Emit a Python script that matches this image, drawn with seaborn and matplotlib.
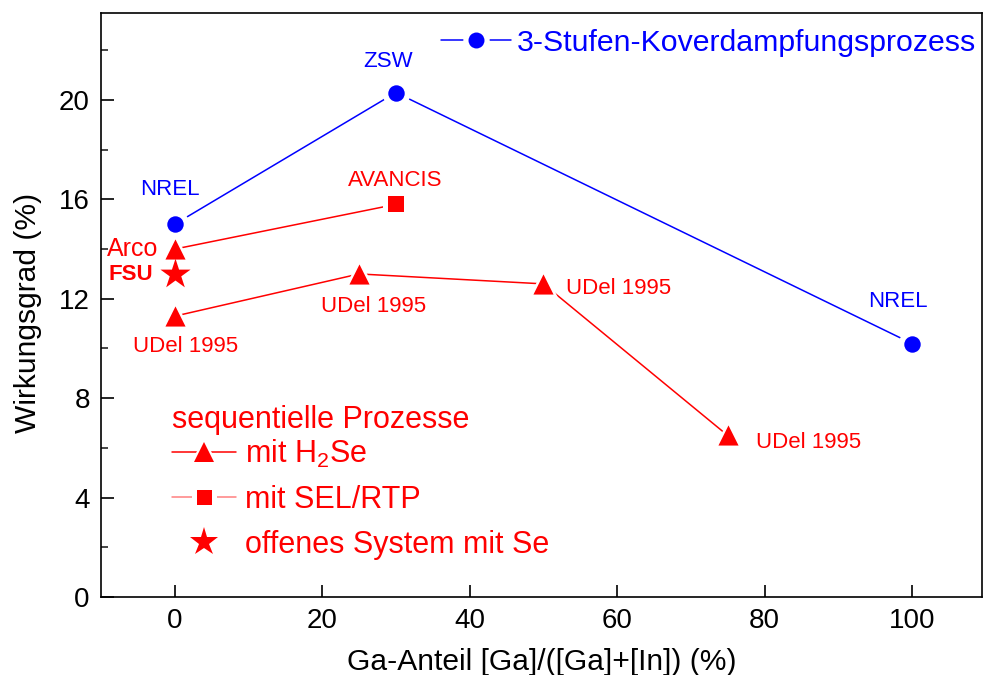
import matplotlib
matplotlib.use("Agg")
import matplotlib.pyplot as plt
from matplotlib.lines import Line2D
from matplotlib.ticker import MultipleLocator
import seaborn as sns
import pandas as pd

# --- data -------------------------------------------------------------
# 3-stage co-evaporation
ga_koverd = [0, 30, 100]
eta_koverd = [15.0, 20.3, 10.2]
lab_koverd = ["NREL", "ZSW", "NREL"]

# sequential process with H2Se (UDel 1995)
ga_h2se = [0, 25, 50, 75]
eta_h2se = [11.3, 13.0, 12.6, 6.5]
lab_h2se = ["UDel 1995", "UDel 1995", "UDel 1995", "UDel 1995"]

# Arco (H2Se) connected to AVANCIS (SEL/RTP)
ga_arco = [0]
eta_arco = [14.0]
ga_sel = [30]
eta_sel = [15.8]

# open system with Se (FSU)
ga_fsu = [0]
eta_fsu = [13.0]

BLUE = "#0000ff"
RED = "#ff0000"
PINK = "#ff8080"

sns.set_style("ticks")
plt.rcParams["font.family"] = ["Liberation Sans", "DejaVu Sans"]
plt.rcParams["text.color"] = "black"
plt.rcParams["axes.labelcolor"] = "black"
plt.rcParams["mathtext.fontset"] = "custom"
plt.rcParams["mathtext.rm"] = "Liberation Sans"

fig = plt.figure(figsize=(9.84, 6.75), dpi=100)
ax = fig.add_axes([0.1026, 0.1156, 0.8954, 0.8651])

df_k = pd.DataFrame({"ga": ga_koverd, "eta": eta_koverd})
df_h = pd.DataFrame({"ga": ga_h2se, "eta": eta_h2se})
df_s = pd.DataFrame({"ga": ga_arco + ga_sel, "eta": eta_arco + eta_sel})

# connecting lines
sns.lineplot(data=df_k, x="ga", y="eta", sort=False, color=BLUE, lw=1.1, ax=ax, zorder=2)
sns.lineplot(data=df_h, x="ga", y="eta", sort=False, color=RED, lw=1.1, ax=ax, zorder=2)
sns.lineplot(data=df_s, x="ga", y="eta", sort=False, color=RED, lw=1.1, ax=ax, zorder=2)

# white halos so lines stop short of the symbols
halo = dict(color="white", linewidth=0, zorder=3, legend=False)
sns.scatterplot(x=ga_koverd, y=eta_koverd, marker="o", s=400, ax=ax, **halo)
sns.scatterplot(x=ga_h2se + ga_arco, y=eta_h2se + eta_arco, marker="^", s=520, ax=ax, **halo)
sns.scatterplot(x=ga_sel, y=eta_sel, marker="s", s=360, ax=ax, **halo)

# symbols
sym = dict(linewidth=0, zorder=4, legend=False)
sns.scatterplot(x=ga_koverd, y=eta_koverd, marker="o", s=140, color=BLUE, ax=ax, **sym)
sns.scatterplot(x=ga_h2se + ga_arco, y=eta_h2se + eta_arco, marker="^", s=210, color=RED, ax=ax, **sym)
sns.scatterplot(x=ga_sel, y=eta_sel, marker="s", s=118, color=RED, ax=ax, **sym)
sns.scatterplot(x=ga_fsu, y=eta_fsu, marker="*", s=520, color=RED, ax=ax, **sym)

# point labels
def note(x, y, text, dx, dy, color, ha="center", size=16, weight="normal"):
    ax.annotate(text, (x, y), xytext=(dx, -dy), textcoords="offset pixels",
                ha=ha, va="center", color=color, fontsize=size, fontweight=weight)

note(ga_koverd[0], eta_koverd[0], lab_koverd[0], -5, -35, BLUE)
note(ga_koverd[1], eta_koverd[1], lab_koverd[1], -8, -31, BLUE)
note(ga_koverd[2], eta_koverd[2], lab_koverd[2], -14, -42, BLUE)
note(ga_sel[0], eta_sel[0], "AVANCIS", -1, -24, RED)
note(ga_arco[0], eta_arco[0], "Arco", -16, 0, RED, ha="right", size=18)
note(ga_fsu[0], eta_fsu[0], "FSU", -22, 1, RED, ha="right", size=16, weight="bold")
note(ga_h2se[0], eta_h2se[0], lab_h2se[0], 11, 30, RED)
note(ga_h2se[1], eta_h2se[1], lab_h2se[1], 15, 33, RED)
note(ga_h2se[2], eta_h2se[2], lab_h2se[2], 23, 5, RED, ha="left")
note(ga_h2se[3], eta_h2se[3], lab_h2se[3], 28, 7, RED, ha="left")

# axes
ax.set_xlim(-10, 109.5)
ax.set_ylim(0, 23.5)
ax.xaxis.set_major_locator(MultipleLocator(20))
ax.yaxis.set_major_locator(MultipleLocator(4))
ax.yaxis.set_minor_locator(MultipleLocator(2))
ax.tick_params(axis="both", which="major", direction="in", length=9, width=1.2,
               labelsize=20, pad=8, colors="black")
ax.tick_params(axis="y", which="minor", direction="in", length=5, width=1.2)
for sp in ax.spines.values():
    sp.set_visible(True)
    sp.set_linewidth(1.2)
    sp.set_color("black")
ax.set_xlabel("Ga-Anteil [Ga]/([Ga]+[In]) (%)", fontsize=21.6, labelpad=10, color="black")
ax.set_ylabel("Wirkungsgrad (%)", fontsize=21.6, color="black")
ax.yaxis.set_label_coords(-0.067, 0.486)

# legends
def handle(marker, ms, color, line_color, halo_ms):
    ln = Line2D([0], [0], color=line_color, lw=1.1)
    hl = Line2D([0], [0], ls="none", marker=marker, ms=halo_ms, color="white", mew=0)
    mk = Line2D([0], [0], ls="none", marker=marker, ms=ms, color=color, mew=0)
    return (ln, hl, mk)

leg1 = ax.legend([handle("o", 11.5, BLUE, BLUE, 19)], ["3-Stufen-Koverdampfungsprozess"],
                 loc="upper right", bbox_to_anchor=(0.993, 0.973), frameon=False,
                 fontsize=21.8, handlelength=2.3, handletextpad=0.2,
                 borderaxespad=0, borderpad=0, labelcolor=BLUE)
ax.add_artist(leg1)

ax.text(0.0806, 0.3035, "sequentielle Prozesse", transform=ax.transAxes,
        ha="left", va="center", fontsize=22, color=RED)

star = Line2D([0], [0], ls="none", marker="*", ms=21, color=RED, mew=0)
leg2 = ax.legend([handle("^", 14.4, RED, RED, 22), handle("s", 10.8, RED, PINK, 18), star],
                 ["mit H$_\\mathregular{2}$Se", "mit SEL/RTP", "offenes System mit Se"],
                 loc="upper left", bbox_to_anchor=(0.0806, 0.272), frameon=False,
                 fontsize=22, handlelength=2.1, handletextpad=0.3,
                 borderaxespad=0, borderpad=0,
                 labelspacing=0.48, labelcolor=RED)

fig.savefig("out.png", dpi=100)
